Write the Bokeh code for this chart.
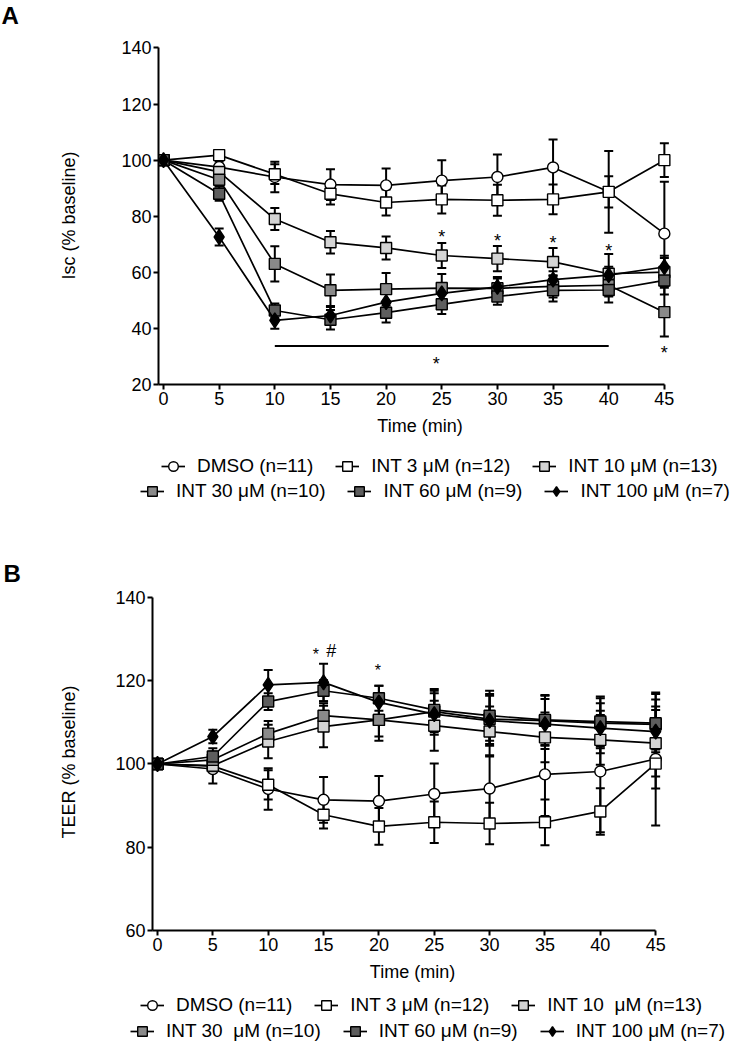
from bokeh.plotting import figure
from bokeh.models import (ColumnDataSource, Whisker, TeeHead, Legend, LegendItem,
                          FixedTicker, Range1d)
from bokeh.layouts import column
from bokeh.embed import file_html
from bokeh.resources import INLINE
from bokeh.core.properties import value

FONT = "Liberation Sans"

# ---------------- data ----------------
time_min = [0, 5, 10, 15, 20, 25, 30, 35, 40, 45]
x_ticks = [0, 5, 10, 15, 20, 25, 30, 35, 40, 45]
isc_ticks = [20, 40, 60, 80, 100, 120, 140]
teer_ticks = [60, 80, 100, 120, 140]

# Panel A: Isc (% baseline), mean and SEM
isc_dmso = [100, 97.5, 94.0, 91.3, 91.0, 92.7, 94.0, 97.4, 88.7, 73.8]
isc_dmso_sem = [0, 2.0, 5.4, 5.5, 6.0, 7.3, 8.0, 10.0, 14.6, 18.5]
isc_int3 = [100, 101.8, 95.0, 88.0, 84.9, 86.0, 85.7, 86.0, 88.7, 100.0]
isc_int3_sem = [0, 1.0, 3.5, 3.8, 4.6, 5.0, 5.5, 5.3, 5.6, 6.0]
isc_int10 = [100, 95.8, 79.0, 70.7, 68.7, 66.0, 64.9, 63.7, 59.5, 60.1]
isc_int10_sem = [0, 2.0, 3.9, 4.0, 4.1, 4.5, 4.5, 5.0, 7.0, 5.0]
isc_int30 = [100, 93.0, 63.0, 53.6, 54.0, 54.4, 54.3, 55.0, 55.4, 45.8]
isc_int30_sem = [0, 2.0, 6.3, 5.6, 5.8, 5.0, 4.0, 4.0, 4.0, 8.7]
isc_int60 = [100, 88.0, 46.4, 43.1, 45.6, 48.6, 51.4, 53.6, 53.7, 57.1]
isc_int60_sem = [0, 2.5, 2.5, 3.5, 3.5, 3.5, 3.0, 4.0, 4.5, 5.0]
isc_int100 = [100, 72.6, 42.9, 44.6, 49.4, 52.5, 54.8, 57.4, 59.0, 61.9]
isc_int100_sem = [0, 3.0, 3.0, 3.0, 3.0, 3.0, 3.0, 3.0, 3.0, 4.0]

isc_labels = ["DMSO (n=11)", "INT 3 \u03bcM (n=12)", "INT 10 \u03bcM (n=13)",
              "INT 30 \u03bcM (n=10)", "INT 60 \u03bcM (n=9)", "INT 100 \u03bcM (n=7)"]

isc_star_x = [25, 30, 35, 40, 45, 24.5]
isc_star_y = [73.9, 72.5, 72.0, 69.2, 32.8, 28.9]
isc_bar_x = [10, 40]
isc_bar_y = 33.7

# Panel B: TEER (% baseline), mean and SEM
teer_dmso = [100, 98.8, 94.0, 91.4, 91.1, 92.8, 94.1, 97.5, 98.2, 101.2]
teer_dmso_sem = [0, 3.5, 5.0, 5.5, 6.0, 7.3, 8.0, 10.0, 14.6, 16.0]
teer_int3 = [100, 99.5, 95.0, 87.8, 85.0, 86.0, 85.7, 86.0, 88.6, 100.1]
teer_int3_sem = [0, 1.0, 3.5, 3.3, 4.4, 5.0, 5.0, 5.5, 5.6, 6.0]
teer_int10 = [100, 99.6, 105.4, 109.0, 110.6, 109.2, 107.8, 106.4, 105.8, 105.0]
teer_int10_sem = [0, 1.5, 4.0, 5.0, 5.0, 6.0, 6.0, 6.0, 6.0, 8.0]
teer_int30 = [100, 101.0, 107.3, 111.6, 110.6, 112.6, 110.8, 110.4, 109.8, 109.5]
teer_int30_sem = [0, 2.0, 3.0, 3.0, 4.0, 5.0, 6.0, 6.0, 6.0, 6.0]
teer_int60 = [100, 101.8, 115.0, 117.6, 115.8, 113.0, 111.6, 110.6, 110.2, 109.8]
teer_int60_sem = [0, 2.0, 2.0, 2.5, 3.0, 5.0, 6.0, 6.0, 6.0, 7.0]
teer_int100 = [100, 106.6, 119.0, 119.6, 114.8, 112.0, 110.4, 109.6, 108.6, 107.8]
teer_int100_sem = [0, 1.6, 3.6, 4.5, 4.0, 5.0, 6.0, 6.0, 6.0, 6.0]

teer_labels = ["DMSO (n=11)", "INT 3 \u03bcM (n=12)", "INT 10  \u03bcM (n=13)",
               "INT 30  \u03bcM (n=10)", "INT 60 \u03bcM (n=9)", "INT 100 \u03bcM (n=7)"]

teer_star_x = [14.3, 19.9]
teer_star_y = [127.2, 123.4]
teer_hash_x = [15.7]
teer_hash_y = [127.2]

# ---------------- styles ----------------
MARKERS = ["circle", "square", "square", "square", "square", "diamond"]
FILLS = ["white", "white", "#d4d4d4", "#8a8a8a", "#5e5e5e", "black"]
SIZES = [11, 11, 11, 11, 11, 15]
W = 735


def add_series(p, i, v, **kw):
    lr = p.line(time_min, v, line_color="black", line_width=1.7, **kw)
    sr = p.scatter(time_min, v, marker=MARKERS[i], size=SIZES[i],
                   fill_color=FILLS[i], line_color="black", line_width=1.4, **kw)
    return lr, sr


def plain_fig(h):
    f = figure(width=W, height=h, x_range=Range1d(0, W), y_range=Range1d(0, h),
               x_axis_location=None, y_axis_location=None, min_border=0,
               output_backend="svg", toolbar_location=None, frame_align=False)
    f.grid.visible = False
    f.outline_line_color = None
    return f


def letter(f, txt, x, y):
    f.text(x=[x], y=[y], text=[txt], text_font=value(FONT), text_font_size="24px",
           text_font_style="bold", text_align="left", text_baseline="middle",
           text_color="black")


def panel(ylab, yticks, xr, yr, fw, fh, left, top, bottom, vals, sems, ylab_standoff):
    p = figure(x_range=Range1d(*xr), y_range=Range1d(*yr),
               frame_width=fw, frame_height=fh,
               min_border_left=left, min_border_right=W - left - fw,
               min_border_top=top, min_border_bottom=bottom,
               output_backend="svg", toolbar_location=None, frame_align=False)
    p.grid.visible = False
    p.outline_line_color = None
    p.xaxis.ticker = FixedTicker(ticks=x_ticks)
    p.yaxis.ticker = FixedTicker(ticks=yticks)
    p.xaxis.bounds = (xr[0], x_ticks[-1])
    p.yaxis.bounds = (yticks[0], yticks[-1])
    for ax in (p.xaxis[0], p.yaxis[0]):
        ax.axis_line_width = 2
        ax.axis_line_color = "black"
        ax.major_tick_line_width = 2
        ax.major_tick_line_color = "black"
        ax.major_tick_out = 5
        ax.major_tick_in = 0
        ax.minor_tick_line_color = None
        ax.major_label_text_font = FONT
        ax.major_label_text_font_size = "18px"
        ax.major_label_text_color = "black"
        ax.major_label_standoff = 2
        ax.axis_label_text_font = FONT
        ax.axis_label_text_font_size = "18px"
        ax.axis_label_text_font_style = "normal"
        ax.axis_label_text_color = "black"
    p.xaxis.axis_label = "Time (min)"
    p.xaxis.axis_label_standoff = 8
    p.yaxis.axis_label = ylab
    p.yaxis.axis_label_standoff = ylab_standoff

    for i in range(len(vals)):
        v, e = vals[i], sems[i]
        src = ColumnDataSource(dict(base=time_min,
                                    lower=[a - b for a, b in zip(v, e)],
                                    upper=[a + b for a, b in zip(v, e)]))
        w = Whisker(base="base", lower="lower", upper="upper", source=src,
                    line_width=2, line_color="black", level="underlay",
                    upper_head=TeeHead(size=9, line_width=2, line_color="black"),
                    lower_head=TeeHead(size=9, line_width=2, line_color="black"))
        p.add_layout(w)
        add_series(p, i, v)
    return p


def legend_fig(h, vals, labels, locs):
    f = plain_fig(h)
    # the series are drawn on an off-screen range: only their legend shows here
    f.extra_x_ranges = {"off": Range1d(1000, 1001)}
    items = []
    for i in range(len(vals)):
        lr, sr = add_series(f, i, vals[i], x_range_name="off")
        items.append(LegendItem(label=labels[i], renderers=[lr, sr]))
    for k, (lo, hi) in enumerate([(0, 3), (3, 6)]):
        lg = Legend(items=items[lo:hi], orientation="horizontal",
                    location=locs[k], label_text_font=FONT,
                    label_text_font_size="19px", label_text_color="black",
                    label_standoff=12, glyph_width=24, glyph_height=26,
                    label_height=20, spacing=22, padding=0,
                    margin=0, border_line_alpha=0,
                    background_fill_alpha=0)
        f.add_layout(lg)
    return f


isc_vals = [isc_dmso, isc_int3, isc_int10, isc_int30, isc_int60, isc_int100]
isc_sems = [isc_dmso_sem, isc_int3_sem, isc_int10_sem, isc_int30_sem, isc_int60_sem, isc_int100_sem]
teer_vals = [teer_dmso, teer_int3, teer_int10, teer_int30, teer_int60, teer_int100]
teer_sems = [teer_dmso_sem, teer_int3_sem, teer_int10_sem, teer_int30_sem, teer_int60_sem, teer_int100_sem]

# header with panel letter A
hdrA = plain_fig(34)
letter(hdrA, "A", 1, 19.5)

pA = panel("Isc (% baseline)", isc_ticks, (-0.45, 46.54), (20, 140.53),
           523, 338, 158, 12, 58, isc_vals, isc_sems, 39)
pA.segment(x0=[isc_bar_x[0]], y0=[isc_bar_y], x1=[isc_bar_x[1]], y1=[isc_bar_y],
           line_color="black", line_width=2)
pA.text(x=isc_star_x, y=isc_star_y, text=["*"] * len(isc_star_x),
        text_font=value(FONT), text_font_size="18px", text_align="center",
        text_baseline="middle", y_offset=4, text_color="black")

# legend of A, plus the letter B above panel B
legA = legend_fig(142, isc_vals, isc_labels, [(161, 105), (140, 80)])
letter(legA, "B", 3, 11)

pB = panel("TEER (% baseline)", teer_ticks, (-0.45, 46.52), (60, 140.96),
           520, 337, 152, 9, 58, teer_vals, teer_sems, 33)
pB.text(x=teer_star_x, y=teer_star_y, text=["*"] * len(teer_star_x),
        text_font=value(FONT), text_font_size="16px", text_align="center",
        text_baseline="middle", y_offset=4, text_color="black")
pB.text(x=teer_hash_x, y=teer_hash_y, text=["#"] * len(teer_hash_x),
        text_font=value(FONT), text_font_size="18px", text_align="center",
        text_baseline="middle", text_color="black")

legB = legend_fig(60, teer_vals, teer_labels, [(140, 30), (130, 4)])

layout = column(hdrA, pA, legA, pB, legB)
open("out.html", "w").write(file_html(layout, INLINE))
